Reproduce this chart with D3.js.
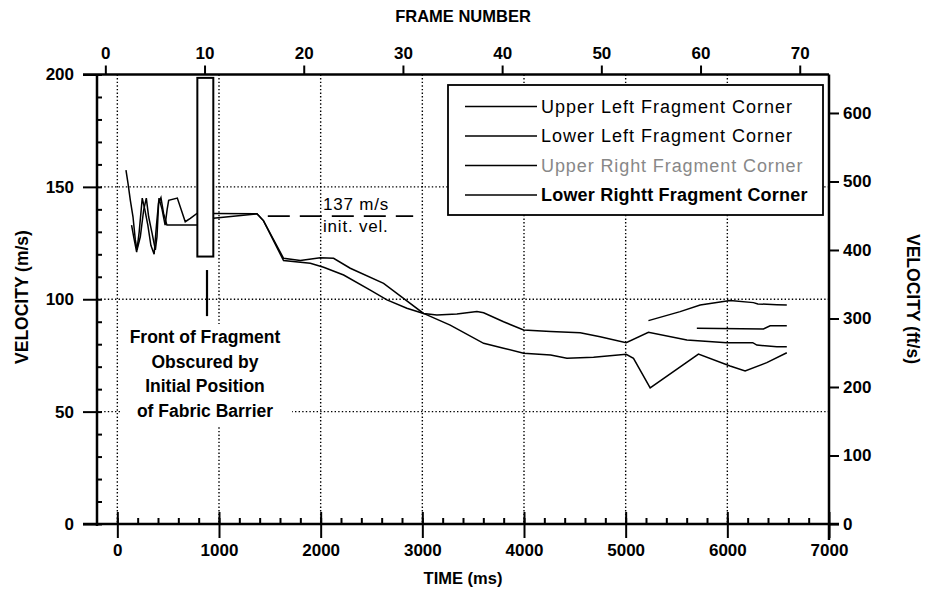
<!DOCTYPE html>
<html><head><meta charset="utf-8">
<script src="https://cdn.jsdelivr.net/npm/d3@7"></script>
<style>body{margin:0;background:#fff}</style>
</head><body>
<svg id="chart" width="928" height="600"></svg>
<script>
// ---------- DATA ----------
const timeTicks = [0, 1000, 2000, 3000, 4000, 5000, 6000, 7000];
const gridTimes = [0, 1000, 2000, 3000, 4000, 5000, 6000];
const velTicks = [0, 50, 100, 150, 200];
const gridVels = [50, 100, 150];
const ftTicks = [0, 100, 200, 300, 400, 500, 600];
const frameTicks = [0, 10, 20, 30, 40, 50, 60, 70];
const seriesNames = ["Upper Left Fragment Corner", "Lower Left Fragment Corner", "Upper Right Fragment Corner", "Lower Rightt Fragment Corner"];

// [time ms, velocity m/s]
const upperLeft = [[85,157.5],[105,151.6],[128,144],[154,136.7],[177,126.4],[194,122],[226,127.8],[259,139.7],[285,145],[308,136.7],[341,129.5],[374,122],[390,127.8],[406,142.7],[429,145.2],[455,138.2],[488,133],[787,133],[944,136],
  [1373,138],[1437,135],[1635,118.2],[1800,117.2],[1996,118.5],[2127,118.2],[2291,113.8],[2619,107.1],[2815,100.4],[3012,93.7],[3143,93],[3340,93.4],[3537,94.5],[3603,94],[3799,90],[3996,86.3],[4262,85.6],[4553,85.1],[4749,83.3],[5005,80.7],[5224,85.3],[5602,81.9],[5995,80.7],[6250,80.7],[6290,79.6],[6487,78.9],[6585,78.9]];
const lowerLeft = [[140,133],[160,128],[190,121],[215,130],[245,145],[270,140],[300,133],[330,124],[362,120],[385,133],[410,145],[440,140],[470,133],[490,140],[505,144],[590,145],[668,134.5],[718,136],[783,138.2],[944,138.2],
  [1373,138],[1437,135],[1635,117.2],[1898,116],[2029,114.2],[2226,110.8],[2488,104.1],[2652,99.7],[2848,96],[3012,93.7],[3274,88.5],[3603,80.4],[3799,78.2],[3996,76],[4262,75.2],[4422,73.7],[4684,74.2],[5005,75.5],[5077,73.7],[5241,60.6],[5716,75.6],[6027,70.3],[6175,68.1],[6388,71.8],[6585,76.2]];
const upperRight = [[5224,90.5],[5536,94.5],[5733,97.4],[6027,99.4],[6257,98.5],[6300,97.9],[6487,97.6],[6585,97.4]];
const lowerRight = [[5700,87.1],[6355,86.8],[6421,88.2],[6585,88.2]];

const initVel = 137;
const initVelSpan = [1480, 2910];
const barrierTime = [787, 944];
const barrierVel = [119, 198.5];
const pointerTime = 882;
const pointerVel = [92.5, 113];
const noteLines = ["Front of Fragment", "Obscured by", "Initial Position", "of Fabric Barrier"];
const velLabel = ["137 m/s", "init. vel."];

// ---------- CHART ----------
const svg = d3.select("#chart");
const L = 97, R = 829, T = 74.5, B = 524;
const x = d3.scaleLinear().domain([-200, 7000]).range([L, R]);
const y = d3.scaleLinear().domain([0, 200]).range([B, T]);
const yFt = d3.scaleLinear().domain([0, 200 * 3.28084]).range([B, T]);
const xFrame = d3.scaleLinear().domain([-0.84, 72.95]).range([L, R]);

const font = "'Liberation Sans',Arial,Helvetica,sans-serif";
const fmt = d3.format("d");

// grid
const grid = svg.append("g").attr("stroke", "#000").attr("stroke-width", 1.4).attr("stroke-dasharray", "1.4,2.2");
grid.selectAll(".gv").data(gridTimes).join("line")
  .attr("x1", d => x(d)).attr("x2", d => x(d)).attr("y1", T).attr("y2", B);
grid.selectAll(".gh").data(gridVels).join("line")
  .attr("x1", L).attr("x2", R).attr("y1", d => y(d)).attr("y2", d => y(d));

// dashed initial velocity
svg.append("line").attr("x1", x(initVelSpan[0])).attr("x2", x(initVelSpan[1]))
  .attr("y1", y(initVel)).attr("y2", y(initVel))
  .attr("stroke", "#000").attr("stroke-width", 1.6).attr("stroke-dasharray", "22,10");

// data lines
const line = d3.line().x(d => x(d[0])).y(d => y(d[1]));
const allSeries = [upperLeft, lowerLeft, upperRight, lowerRight];
svg.append("g").selectAll("path").data(allSeries).join("path")
  .attr("d", line).attr("fill", "none").attr("stroke", "#000").attr("stroke-width", 1.5);

// barrier rectangle
svg.append("rect").attr("x", x(barrierTime[0])).attr("y", y(barrierVel[1]))
  .attr("width", x(barrierTime[1]) - x(barrierTime[0])).attr("height", y(barrierVel[0]) - y(barrierVel[1]))
  .attr("fill", "#fff").attr("stroke", "#000").attr("stroke-width", 2);
svg.append("line").attr("x1", x(pointerTime)).attr("x2", x(pointerTime))
  .attr("y1", y(pointerVel[1])).attr("y2", y(pointerVel[0]))
  .attr("stroke", "#000").attr("stroke-width", 2.2);

// annotation
const noteG = svg.append("g");
noteG.append("rect").attr("x", 122).attr("y", 324).attr("width", 170).attr("height", 102).attr("fill", "#fff");
noteG.selectAll("text").data(noteLines).join("text")
  .attr("x", 205).attr("y", (d, i) => 343 + i * 24.5)
  .attr("text-anchor", "middle").attr("font-family", font).attr("font-weight", "bold")
  .attr("font-size", 17.5).attr("fill", "#000").text(d => d);

svg.selectAll(".vl").data(velLabel).join("text")
  .attr("x", 323).attr("y", (d, i) => 210 + i * 22)
  .attr("font-family", font).attr("font-size", 17).attr("fill", "#000").attr("letter-spacing", 0.8).text(d => d);

// axes
function styleAxis(g) {
  g.select(".domain").remove();
  g.selectAll(".tick line").attr("stroke", "#000").attr("stroke-width", 2);
  g.selectAll(".tick text").attr("font-family", font).attr("font-weight", "bold").attr("font-size", 17).attr("fill", "#000");
}
svg.append("g").attr("transform", `translate(${L},0)`)
  .call(d3.axisLeft(y).tickValues(velTicks).tickSize(14).tickPadding(9).tickFormat(fmt)).call(styleAxis);
svg.append("g").attr("transform", `translate(${L},0)`)
  .call(d3.axisRight(y).tickValues(d3.range(0, 201, 10)).tickSize(5).tickFormat("")).call(styleAxis);
svg.append("g").attr("transform", `translate(0,${B})`)
  .call(d3.axisBottom(x).tickValues(timeTicks).tickSize(14).tickPadding(6).tickFormat(fmt)).call(styleAxis);
svg.append("g").attr("transform", `translate(0,${B})`)
  .call(d3.axisTop(x).tickValues(timeTicks).tickSize(12).tickFormat("")).call(styleAxis);
svg.append("g").attr("transform", `translate(0,${B})`)
  .call(d3.axisTop(x).tickValues(d3.range(0, 7000, 200)).tickSize(6).tickFormat("")).call(styleAxis);
svg.append("g").attr("transform", `translate(${R},0)`)
  .call(d3.axisRight(yFt).tickValues(ftTicks).tickSize(10).tickPadding(4).tickFormat(fmt)).call(styleAxis);
svg.append("g").attr("transform", `translate(0,${T})`)
  .call(d3.axisTop(xFrame).tickValues(frameTicks).tickSize(9).tickPadding(7).tickFormat(fmt)).call(styleAxis);

// axis lines
const ax = svg.append("g").attr("stroke", "#000").attr("stroke-width", 2.5);
ax.append("line").attr("x1", L).attr("x2", L).attr("y1", T).attr("y2", B + 2);
ax.append("line").attr("x1", R).attr("x2", R).attr("y1", T).attr("y2", B + 16);
ax.append("line").attr("x1", L - 14).attr("x2", R).attr("y1", T).attr("y2", T);
ax.append("line").attr("x1", L - 14).attr("x2", R + 10).attr("y1", B).attr("y2", B);

// titles
svg.append("text").attr("x", 463).attr("y", 22).attr("text-anchor", "middle")
  .attr("font-family", font).attr("font-weight", "bold").attr("font-size", 16.5).text("FRAME NUMBER");
svg.append("text").attr("x", 463).attr("y", 584).attr("text-anchor", "middle")
  .attr("font-family", font).attr("font-weight", "bold").attr("font-size", 16.5).text("TIME (ms)");
svg.append("text").attr("transform", "translate(28,297) rotate(-90)").attr("text-anchor", "middle")
  .attr("font-family", font).attr("font-weight", "bold").attr("font-size", 17.5).text("VELOCITY (m/s)");
svg.append("text").attr("transform", "translate(907,299) rotate(90)").attr("text-anchor", "middle")
  .attr("font-family", font).attr("font-weight", "bold").attr("font-size", 17.5).text("VELOCITY (ft/s)");

// legend
const lg = svg.append("g");
lg.append("rect").attr("x", 448).attr("y", 85).attr("width", 375).attr("height", 130)
  .attr("fill", "#fff").attr("stroke", "#000").attr("stroke-width", 1.8);
const legendColors = ["#000", "#000", "#888", "#000"];
const legendWeights = ["normal", "normal", "normal", "bold"];
const legendSpacing = [1, 1, 0.9, 0.2];
const rows = lg.selectAll("g.row").data(seriesNames).join("g").attr("class", "row")
  .attr("transform", (d, i) => `translate(0,${106.5 + i * 29.5})`);
rows.append("line").attr("x1", 465).attr("x2", 537).attr("stroke", "#000").attr("stroke-width", 1.5);
rows.append("text").attr("x", 541).attr("dy", "0.36em")
  .attr("font-family", font).attr("font-size", 18).attr("letter-spacing", (d, i) => legendSpacing[i])
  .attr("font-weight", (d, i) => legendWeights[i]).attr("fill", (d, i) => legendColors[i]).text(d => d);
</script>
</body></html>
